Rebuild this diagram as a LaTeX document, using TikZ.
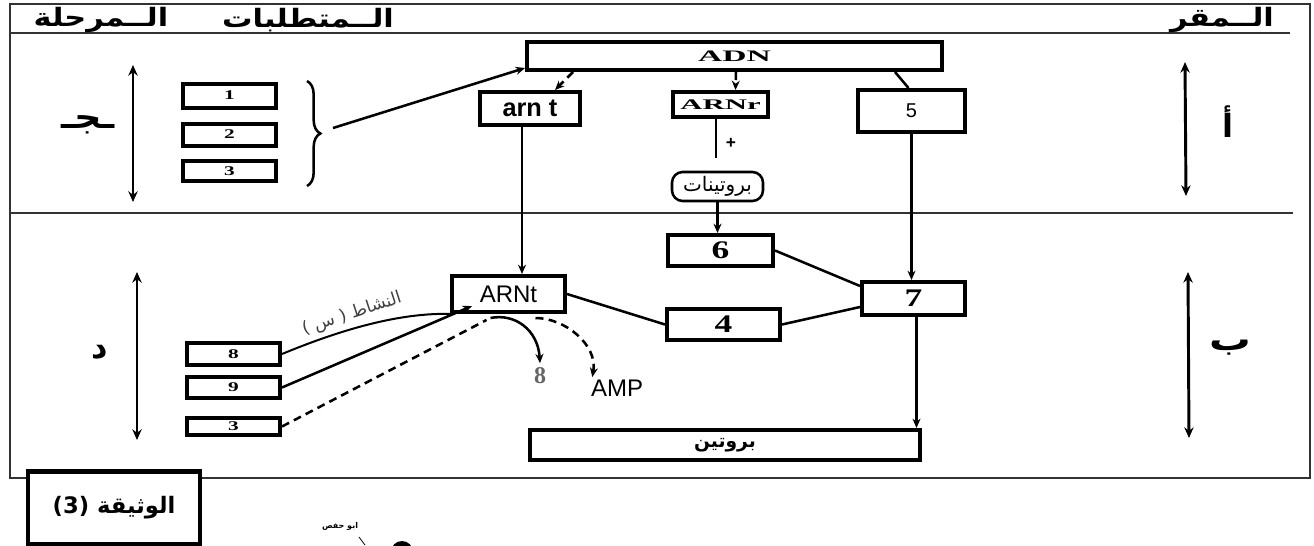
\documentclass[tikz,border=0pt]{standalone}
\usepackage{fontspec}
\usepackage{graphicx}
\setmainfont{Liberation Serif}
\newfontfamily\sansf{Liberation Sans}
\newfontfamily\arabicfont[Script=Arabic]{DejaVu Sans}
\TeXXeTstate=1
\usetikzlibrary{arrows.meta,decorations.pathreplacing,calc}
\begin{document}
\begin{tikzpicture}[x=0.75pt,y=-0.75pt,
  frm/.style={line width=1.5pt, draw=black!80},
  bx/.style={draw, line width=3pt, inner sep=0pt, fill=white},
  sz/.style 2 args={minimum width=#1*0.75pt, minimum height=#2*0.75pt},
  conn/.style={line width=1.9pt},
  dsh/.style={dash pattern=on 6pt off 4pt},
  arr/.style={-{Stealth[length=7pt,width=6pt]}},
  dbl/.style={line width=2.2pt, {Stealth[length=8pt,width=7pt]}-{Stealth[length=8pt,width=7pt]}},
  numf/.style={font=\bfseries\fontsize{10}{12}\selectfont},
  bignum/.style={font=\bfseries\fontsize{19}{21}\selectfont},
  arhead/.style={font=\arabicfont\bfseries\fontsize{19}{22}\selectfont},
  arlet/.style={font=\arabicfont\bfseries\fontsize{24}{28}\selectfont},
]
\useasboundingbox (0,0) rectangle (1314,546);
% frame
\draw[frm] (10,4) -- (1310,4) -- (1310,478) -- (10,478) -- cycle;
\draw[frm] (10,33) -- (1290,33);
\draw[frm] (10,213) -- (1293,213);
% header
\node[arhead] (hA) at (101,20) {\scalebox{1.2}[1]{\beginR الــمرحلة\endR}};
\node[arhead] (hB) at (308,20) {\scalebox{1.2}[1]{\beginR الــمتطلبات\endR}};
\node[arhead] (hC) at (1222,20) {\scalebox{1.2}[1]{\beginR الــمقر\endR}};
% side arrows and letters
\coordinate (la1) at (133,65); \coordinate (la2) at (133,202);
\draw[dbl] (la1) -- (la2);
\coordinate (lb1) at (137,272); \coordinate (lb2) at (137,440);
\draw[dbl] (lb1) -- (lb2);
\coordinate (ra1) at (1185,62); \coordinate (ra2) at (1186,196);
\draw[dbl] (ra1) -- (ra2);
\coordinate (rb1) at (1188,272); \coordinate (rb2) at (1189,438);
\draw[dbl] (rb1) -- (rb2);
\node[arlet] (lj) at (88,125) {\scalebox{1.2}[1]{\beginR ـجـ\endR}};
\node[arlet] (ld) at (100,352) {\beginR د\endR};
\node[arlet] (ra) at (1228,122) {\beginR أ\endR};
\node[arlet] (rb) at (1230,348) {\scalebox{1.3}[1]{\beginR ب\endR}};
% boxes 1 2 3
\node[bx, sz={93}{24}, numf] (n1) at (229.5,95.5) {\scalebox{1.6}[1]{1}};
\node[bx, sz={93}{22}, numf] (n2) at (229.5,134.5) {\scalebox{1.6}[1]{2}};
\node[bx, sz={93}{20}, numf] (n3) at (229.5,171) {\scalebox{1.6}[1]{3}};
\draw[line width=1.9pt, decorate, decoration={brace, amplitude=10pt}] (307,81) -- (307,186);
\coordinate (bt) at (333,128);
% top nodes
\node[bx, sz={415}{28}] (ADN) at (734.5,56) {\bfseries\fontsize{12}{14}\selectfont\scalebox{2.1}[1]{ADN}};
\node[bx, sz={100}{33}, font=\sansf\bfseries\fontsize{19}{22}\selectfont] (arnt) at (530,108.5) {arn t};
\node[bx, sz={95}{25}] (ARNr) at (720.5,104.5) {\bfseries\fontsize{11}{13}\selectfont\scalebox{2.1}[1]{ARNr}};
\node[bx, sz={107}{42}, font=\sansf\fontsize{15}{18}\selectfont] (b5) at (911.5,111) {5};
\node[font=\sansf\bfseries\fontsize{13}{15}\selectfont] (plus) at (731,143) {+};
\coordinate (rEnd) at (716,158);
\node[draw, line width=1.9pt, rounded corners=8pt, fill=white, sz={91}{29}, inner sep=0pt, font=\arabicfont\fontsize{15}{18}\selectfont] (prot) at (717.5,186.5) {\beginR بروتينات\endR};
% lower nodes
\node[bx, sz={105}{31}, bignum] (b6) at (720.5,250.5) {\scalebox{1.4}[1]{6}};
\node[bx, sz={103}{33}, bignum] (b7) at (913.5,298.5) {\scalebox{1.4}[1]{7}};
\node[bx, sz={113}{31}, bignum] (b4) at (723.5,324.5) {\scalebox{1.4}[1]{4}};
\node[bx, sz={113}{36}, font=\sansf\fontsize{18}{20}\selectfont] (ARNt) at (508.5,294) {ARNt\hspace{33pt}};
\node[bx, sz={390}{30}, font=\arabicfont\bfseries\fontsize{14}{17}\selectfont] (bro) at (725,445) {\beginR بروتين\endR};
\node[bx, sz={93}{22}, numf] (m8) at (233.5,354) {\scalebox{1.6}[1]{8}};
\node[bx, sz={93}{21}, numf] (m9) at (233.5,387.5) {\scalebox{1.6}[1]{9}};
\node[bx, sz={93}{17}, numf] (m3) at (233.5,426.5) {\scalebox{1.6}[1]{3}};
\node[font=\bfseries\fontsize{18}{20}\selectfont, text=black!60] (e8) at (540,376) {8};
\node[font=\sansf\fontsize{18}{20}\selectfont] (amp) at (617,388) {AMP};
% connectors
\draw[conn, arr] (bt) -- ([yshift=3pt]ADN.south west);
\draw[conn, dsh, arr] ($(ADN.south west)+(48,0)$) -- ($(arnt.north)+(25,0)$);
\draw[conn, dsh, arr] ($(ADN.south west)+(211,0)$) -- ($(ARNr.north)+(15,0)$);
\draw[conn] ($(ADN.south west)+(370,0)$) -- ($(b5.north)+(-3,0)$);
\draw[conn] (ARNr.south -| rEnd) -- (rEnd);
\coordinate (a1) at ($(arnt.south)+(-8,0)$);
\draw[conn, arr] (a1) -- (a1 |- ARNt.north);
\draw[conn, arr] (prot.south) -- (prot.south |- b6.north);
\draw[conn, arr] (b5.south) -- (b5.south |- b7.north);
\coordinate (b7d) at ($(b7.south)+(3,0)$);
\draw[conn, arr] (b7d) -- (b7d |- bro.north);
\draw[conn] (b6.east) -- ($(b7.north west)+(0,6)$);
\draw[conn] (b4.east) -- ($(b7.south west)+(0,-10)$);
\draw[conn] (ARNt.east) -- (b4.west);
\coordinate (s8) at ($(ARNt.south)+(-18,4)$);
\coordinate (sA) at ($(ARNt.south)+(27,4)$);
\draw[conn, arr] (s8) .. controls (515,313) and (538,330) .. (e8.north);
\draw[conn, dsh, arr] (sA) .. controls (565,318) and (598,345) .. ($(amp.north west)+(6,2)$);
\coordinate (t8) at ($(ARNt.south west)+(3,0)$);
\draw[line width=1.5pt] (m8.east) .. controls (340,330) and (400,312) .. (t8);
\draw[conn, arr] (m9.east) -- ($(ARNt.south west)+(22,-8)$);
\draw[conn, dsh] (m3.east) -- ($(ARNt.south)+(-22,6)$);
\node[font=\arabicfont\fontsize{13}{15}\selectfont, text=black!75, rotate=18] (nash) at (352,314) {\beginR النشاط ( س )\endR};
% bottom
\node[draw, line width=3.5pt, fill=white, sz={172}{73}, inner sep=0pt, font=\arabicfont\bfseries\fontsize{17}{20}\selectfont] (doc) at (114,508) {\beginR الوثيقة (3)\endR};
\node[font=\arabicfont\bfseries\fontsize{6}{7}\selectfont] (auth) at (340,526) {\beginR ابو حفص\endR};
\draw[line width=0.6pt] (359,537) -- (365,545);
\fill (402,552) circle (11);
\end{tikzpicture}
\end{document}
